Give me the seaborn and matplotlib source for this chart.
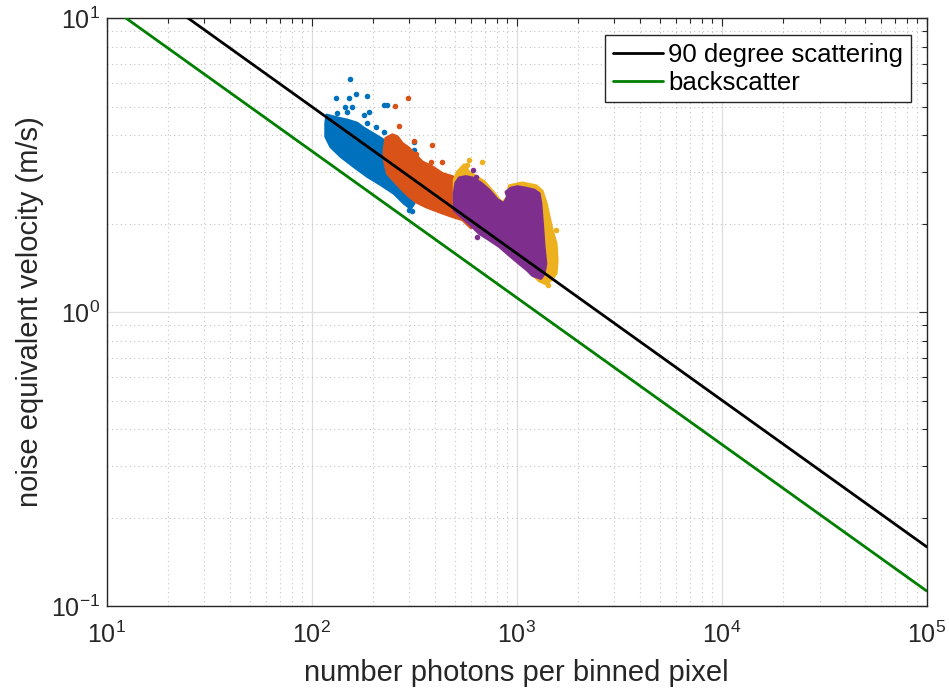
import numpy as np
import pandas as pd
import matplotlib
matplotlib.use("Agg")
import matplotlib.pyplot as plt
import seaborn as sns

# ---------------- data ----------------
# theory lines: photons per binned pixel vs noise-equivalent velocity
line_N_90 = [24.9, 1e5]
line_v_90 = [10.0, 0.159]
line_N_back = [12.4, 1e5]
line_v_back = [10.0, 0.1125]

# measured point clouds: outline of the dense core (N, v)
blue_N = [118.3, 128.5, 138.5, 149.2, 166.9, 180.0, 197.6, 217.2, 229.7, 282.2, 315.8,
          315.8, 304.3, 282.2, 252.2, 217.2, 186.8, 160.8, 138.5, 123.7, 117.0, 117.0]
blue_v = [4.68, 4.61, 4.55, 4.50, 4.39, 4.22, 4.06, 3.90, 3.80, 2.93, 2.41,
          2.34, 2.25, 2.34, 2.53, 2.71, 2.89, 3.12, 3.38, 3.65, 3.95, 4.39]
blue_out_N = [153.8, 130.9, 163.9, 186.8, 152.0, 145.4, 149.2, 225.4, 233.9, 180.0, 190.4,
              186.8, 205.3, 225.4, 315.8, 315.8, 133.3, 157.8, 298.0, 309.0]
blue_out_v = [6.19, 5.33, 5.51, 5.42, 5.33, 4.97, 4.80, 5.06, 5.06, 4.68, 4.80,
              4.39, 4.27, 4.10, 3.80, 3.56, 4.74, 4.99, 2.22, 2.20]

orange_N = [229.7, 247.4, 261.7, 276.9, 298.5, 322.0, 346.7, 388.0, 434.2, 485.8, 524.0,
            599.6, 543.6, 485.8, 418.4, 360.2, 322.0, 287.6, 257.0, 233.9, 225.4, 225.4]
orange_v = [3.90, 4.01, 3.95, 3.75, 3.61, 3.42, 3.24, 3.12, 2.96, 2.89, 2.81,
            1.93, 2.06, 2.11, 2.19, 2.28, 2.37, 2.53, 2.75, 2.96, 3.30, 3.56]
orange_out_N = [255.1, 296.2, 266.8, 388.0, 434.2, 381.0, 315.8, 322.0]
orange_out_v = [5.02, 5.33, 4.29, 3.70, 3.24, 3.24, 3.82, 3.46]

yellow_N = [495.1, 512.1, 554.1, 586.1, 693.9, 776.6, 849.6, 898.7, 919.1, 1064, 1245, 1332,
            1393, 1441, 1491, 1559, 1577, 1559, 1491, 1393, 1288, 1029, 586.1, 495.1]
yellow_v = [2.81, 2.99, 3.17, 2.99, 2.78, 2.54, 2.35, 2.45, 2.69, 2.75, 2.69, 2.58,
            2.35, 2.11, 1.90, 1.71, 1.50, 1.355, 1.295, 1.245, 1.275, 1.48, 2.12, 2.31]
yellow_out_N = [680.8, 575.1, 1554, 1414, 543.6, 586.1, 1441]
yellow_out_v = [3.24, 3.17, 1.90, 1.235, 2.96, 3.30, 1.385]

purple_N = [504.7, 524.0, 564.8, 608.4, 668.7, 734.0, 806.0, 868.8, 901.8, 885.7, 937.0, 1009,
            1109, 1218, 1288, 1313, 1337, 1362, 1389, 1362, 1313, 1195, 1129, 1029, 919.1,
            821.5, 734.0, 656.0, 586.1, 524.0, 495.1, 495.1]
purple_v = [2.75, 2.86, 2.89, 2.86, 2.75, 2.60, 2.41, 2.34, 2.47, 2.56, 2.64, 2.67,
            2.64, 2.60, 2.53, 2.34, 2.00, 1.67, 1.46, 1.35, 1.30, 1.33, 1.385, 1.46, 1.56,
            1.67, 1.76, 1.85, 2.00, 2.14, 2.22, 2.53]
purple_out_N = [632.1, 643.6, 613.2]
purple_out_v = [2.89, 1.80, 3.04]

legend_labels = ["90 degree scattering", "backscatter"]
x_label = "number photons per binned pixel"
y_label = "noise equivalent velocity (m/s)"

# ---------------- style ----------------
sns.set_style("white")
plt.rcParams["font.family"] = ["Liberation Sans", "DejaVu Sans"]
plt.rcParams["mathtext.fontset"] = "custom"
plt.rcParams["mathtext.rm"] = "Liberation Sans"
plt.rcParams["mathtext.it"] = "Liberation Sans:italic"
plt.rcParams["axes.unicode_minus"] = False

C_BLUE = "#0072BD"
C_ORANGE = "#D95319"
C_YELLOW = "#EDB120"
C_PURPLE = "#7E2F8E"
C_BLACK = "#000000"
C_GREEN = "#007F00"
AX_COL = "#262626"

fig = plt.figure(figsize=(9.49, 6.9), dpi=100)
ax = fig.add_axes([0.1124, 0.1217, 0.8641, 0.8522])
ax.set_xscale("log")
ax.set_yscale("log")

clouds = [
    (blue_N, blue_v, blue_out_N, blue_out_v, C_BLUE),
    (orange_N, orange_v, orange_out_N, orange_out_v, C_ORANGE),
    (yellow_N, yellow_v, yellow_out_N, yellow_out_v, C_YELLOW),
    (purple_N, purple_v, purple_out_N, purple_out_v, C_PURPLE),
]
z = 2.0
for cN, cv, oN, ov, col in clouds:
    ax.fill(cN, cv, color=col, ec=col, lw=2.0, zorder=z, joinstyle="round")
    sns.scatterplot(x=oN, y=ov, color=col, s=16, linewidth=0, ax=ax,
                    legend=False, zorder=z + 0.05)
    z += 0.1

df_lines = pd.DataFrame({
    "N": line_N_90 + line_N_back,
    "v": line_v_90 + line_v_back,
    "series": [legend_labels[0]] * len(line_N_90) + [legend_labels[1]] * len(line_N_back),
})
sns.lineplot(data=df_lines, x="N", y="v", hue="series",
             palette={legend_labels[0]: C_BLACK, legend_labels[1]: C_GREEN},
             lw=2.0, sort=False, ax=ax, zorder=3, legend=True)

ax.set_xlim(10, 1e5)
ax.set_ylim(0.1, 10)

# grid
ax.set_axisbelow(True)
ax.grid(which="major", color="#dedede", lw=0.9, ls="-")
ax.grid(which="minor", color="#c4c4c4", lw=0.8, ls=(0, (1, 3)))

# ticks
ax.xaxis.set_major_locator(matplotlib.ticker.LogLocator(base=10, numticks=10))
ax.xaxis.set_minor_locator(matplotlib.ticker.LogLocator(base=10, subs=np.arange(2, 10), numticks=20))
ax.yaxis.set_minor_locator(matplotlib.ticker.LogLocator(base=10, subs=np.arange(2, 10), numticks=20))
ax.xaxis.set_minor_formatter(matplotlib.ticker.NullFormatter())
ax.yaxis.set_minor_formatter(matplotlib.ticker.NullFormatter())
ax.tick_params(which="both", direction="in", top=True, right=True, color=AX_COL,
               labelcolor=AX_COL, width=0.8)
ax.tick_params(which="major", length=6, labelsize=18)
ax.tick_params(axis="x", which="major", pad=11)
ax.tick_params(axis="y", which="major", pad=5)
ax.tick_params(which="minor", length=3.5)
for sp in ax.spines.values():
    sp.set_color(AX_COL)
    sp.set_linewidth(1.0)

ax.set_xlabel(x_label, fontsize=21, color=AX_COL, labelpad=8)
ax.set_ylabel(y_label, fontsize=21, color=AX_COL, labelpad=5)

leg = ax.legend(loc="upper right", bbox_to_anchor=(0.981, 0.971), borderaxespad=0,
                fontsize=18.5, frameon=True, fancybox=False, framealpha=1,
                edgecolor=AX_COL, handlelength=1.95, handletextpad=0.2,
                borderpad=0.3, labelspacing=0.15, title=None)
leg.get_frame().set_linewidth(1.0)
for t in leg.get_texts():
    t.set_color("#000000")

fig.savefig("out.png", dpi=100)
